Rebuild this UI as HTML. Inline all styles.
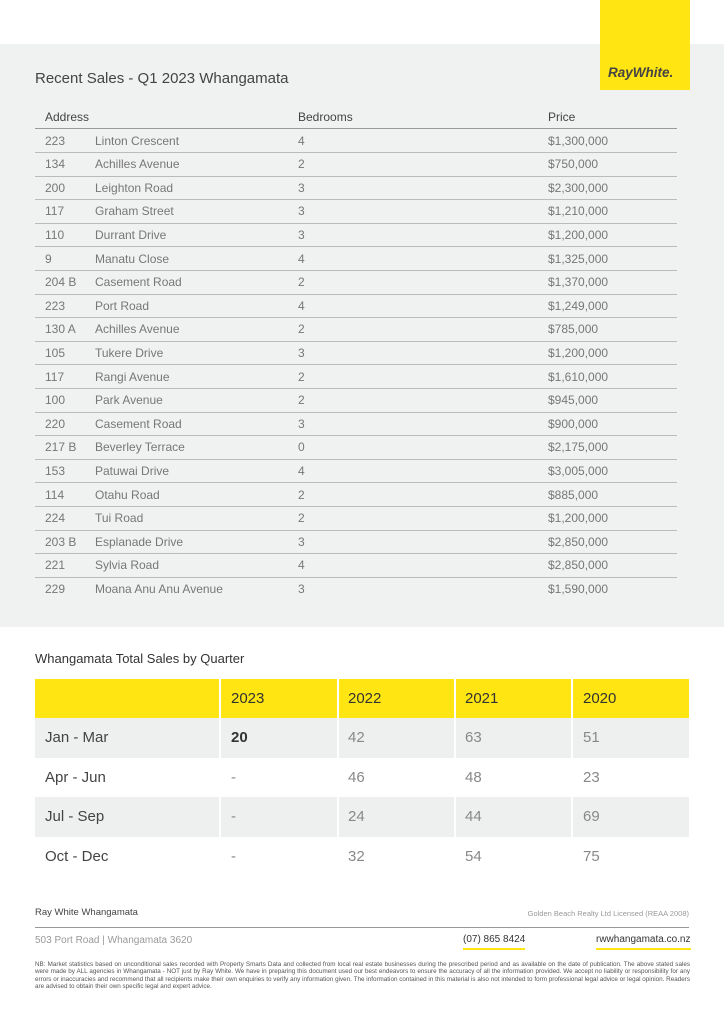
<!DOCTYPE html>
<html><head><meta charset="utf-8"><style>
body{margin:0;width:724px;height:1024px;background:#fff;font-family:"Liberation Sans",sans-serif;position:relative;overflow:hidden;color:#444}
.a{position:absolute}
.band{left:0;top:44px;width:724px;height:583px;background:#f0f1f1}
.logo{left:600px;top:0;width:90px;height:90px;background:#ffe512}
.logo span{position:absolute;left:8px;top:65px;font-weight:bold;font-style:italic;font-size:13.5px;color:#444}
.t1{left:35px;top:70px;font-size:15px;color:#444}
.row{position:absolute;left:35px;width:642px;height:23.5px;border-bottom:1px solid #bbb;font-size:12px;color:#777}
.row span{position:absolute;top:5px}
.hdr{color:#444}
.t2{left:35px;top:651px;font-size:13px;color:#333}
.bt{position:absolute;left:35px;width:654px;height:39.5px;font-size:15px}
.bt span{position:absolute;top:11px}
.d{position:absolute;top:0;width:2px;height:100%;background:#fff}
</style></head><body>
<div class="a band"></div>
<div class="a logo"><span>RayWhite.</span></div>
<div class="a t1">Recent Sales - Q1 2023 Whangamata</div>
<div class="row hdr" style="top:104px;border-bottom:1px solid #999"><span style="left:10px;top:6px">Address</span><span style="left:263px;top:6px">Bedrooms</span><span style="left:513px;top:6px">Price</span></div>
<div id="rows"></div>
<script>
var d=[["223","Linton Crescent","4","$1,300,000"],["134","Achilles Avenue","2","$750,000"],["200","Leighton Road","3","$2,300,000"],["117","Graham Street","3","$1,210,000"],["110","Durrant Drive","3","$1,200,000"],["9","Manatu Close","4","$1,325,000"],["204 B","Casement Road","2","$1,370,000"],["223","Port Road","4","$1,249,000"],["130 A","Achilles Avenue","2","$785,000"],["105","Tukere Drive","3","$1,200,000"],["117","Rangi Avenue","2","$1,610,000"],["100","Park Avenue","2","$945,000"],["220","Casement Road","3","$900,000"],["217 B","Beverley Terrace","0","$2,175,000"],["153","Patuwai Drive","4","$3,005,000"],["114","Otahu Road","2","$885,000"],["224","Tui Road","2","$1,200,000"],["203 B","Esplanade Drive","3","$2,850,000"],["221","Sylvia Road","4","$2,850,000"],["229","Moana Anu Anu Avenue","3","$1,590,000"]];
var h="";d.forEach(function(r,i){var t=128.5+i*23.6;h+='<div class="row" style="top:'+t+'px'+(i==19?';border-bottom:none':'')+'"><span style="left:10px">'+r[0]+'</span><span style="left:60px">'+r[1]+'</span><span style="left:263px">'+r[2]+'</span><span style="left:513px">'+r[3]+'</span></div>';});
document.getElementById("rows").innerHTML=h;
</script>
<div class="a t2">Whangamata Total Sales by Quarter</div>
<div class="bt" style="top:679px;background:#ffe512;color:#333"><span style="left:196px">2023</span><span style="left:313px">2022</span><span style="left:430px">2021</span><span style="left:548px">2020</span><div class="d" style="left:184px"></div><div class="d" style="left:302px"></div><div class="d" style="left:419px"></div><div class="d" style="left:536px"></div></div>
<div class="bt" style="top:718px;background:#eeefef;color:#888"><span style="left:10px;color:#444">Jan - Mar</span><span style="left:196px;color:#333;font-weight:bold">20</span><span style="left:313px">42</span><span style="left:430px">63</span><span style="left:548px">51</span><div class="d" style="left:184px"></div><div class="d" style="left:302px"></div><div class="d" style="left:419px"></div><div class="d" style="left:536px"></div></div>
<div class="bt" style="top:757.5px;background:#fff;color:#888"><span style="left:10px;color:#444">Apr - Jun</span><span style="left:196px">-</span><span style="left:313px">46</span><span style="left:430px">48</span><span style="left:548px">23</span></div>
<div class="bt" style="top:797px;background:#eeefef;color:#888"><span style="left:10px;color:#444">Jul - Sep</span><span style="left:196px">-</span><span style="left:313px">24</span><span style="left:430px">44</span><span style="left:548px">69</span><div class="d" style="left:184px"></div><div class="d" style="left:302px"></div><div class="d" style="left:419px"></div><div class="d" style="left:536px"></div></div>
<div class="bt" style="top:836.5px;background:#fff;color:#888"><span style="left:10px;color:#444">Oct - Dec</span><span style="left:196px">-</span><span style="left:313px">32</span><span style="left:430px">54</span><span style="left:548px">75</span></div>
<div class="a" style="left:35px;top:907px;font-size:9.5px;color:#444">Ray White Whangamata</div>
<div class="a" style="left:500px;top:909px;width:189px;text-align:right;font-size:7.5px;color:#999">Golden Beach Realty Ltd Licensed (REAA 2008)</div>
<div class="a" style="left:35px;top:927px;width:654px;height:1px;background:#999"></div>
<div class="a" style="left:35px;top:935px;font-size:10px;color:#999">503 Port Road | Whangamata 3620</div>
<div class="a" style="left:463px;top:934px;font-size:10px;color:#333;border-bottom:2px solid #ffe512;padding-bottom:3px">(07) 865 8424</div>
<div class="a" style="left:596px;top:934px;font-size:10px;color:#333;border-bottom:2px solid #ffe512;padding-bottom:3px">rwwhangamata.co.nz</div>
<div class="a" style="left:35px;top:961px;width:655px;font-size:6.3px;line-height:7.3px;color:#555;text-align:justify">NB: Market statistics based on unconditional sales recorded with Property Smarts Data and collected from local real estate businesses during the prescribed period and as available on the date of publication. The above stated sales were made by ALL agencies in Whangamata - NOT just by Ray White. We have in preparing this document used our best endeavors to ensure the accuracy of all the information provided. We accept no liability or responsibility for any errors or inaccuracies and recommend that all recipients make their own enquiries to verify any information given. The information contained in this material is also not intended to form professional legal advice or legal opinion. Readers are advised to obtain their own specific legal and expert advice.</div>
</body></html>
